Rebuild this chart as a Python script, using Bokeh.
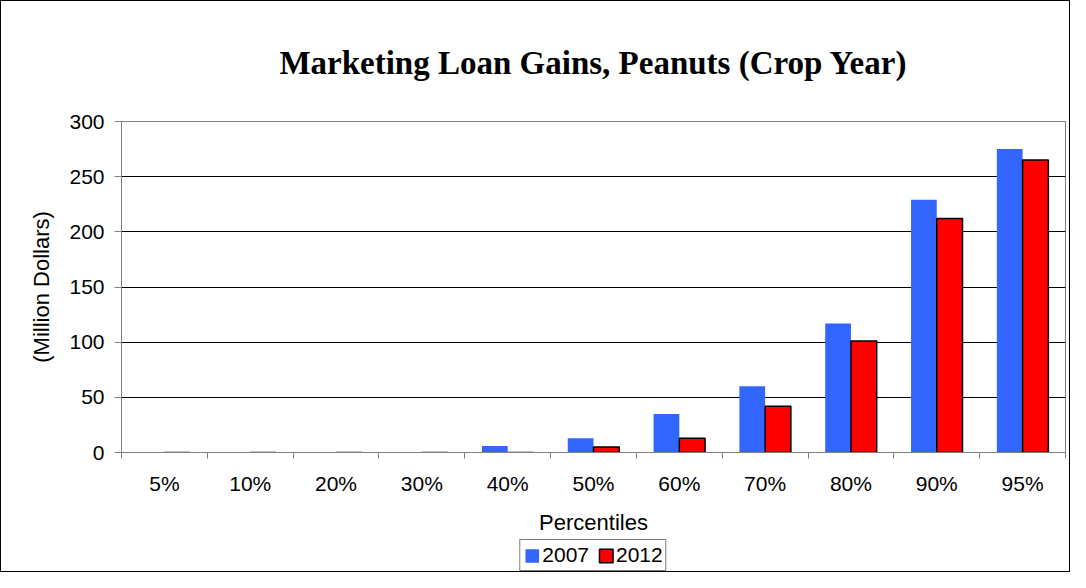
from bokeh.plotting import figure
from bokeh.layouts import column
from bokeh.models import (ColumnDataSource, Range1d, LinearAxis, FixedTicker, Legend, LegendItem)
from bokeh.transform import dodge
from bokeh.embed import file_html
from bokeh.resources import INLINE

categories = ["5%", "10%", "20%", "30%", "40%", "50%", "60%", "70%", "80%", "90%", "95%"]
values_2007 = [0, 0, 0, 0, 6, 13, 35, 60, 117, 229, 275]
values_2012 = [0, 0, 0, 0, 0, 5, 13, 42, 101, 212, 265]
series_names = ["2007", "2012"]
y_ticks = [0, 50, 100, 150, 200, 250, 300]

n = len(categories)
centers = [i + 0.5 for i in range(n)]
source = ColumnDataSource(data=dict(pos=centers, cat=categories, v2007=values_2007, v2012=values_2012))

SANS = "Liberation Sans"
SERIF = "Liberation Serif"
BLUE = "#3366FF"
RED = "#FF0000"

p = figure(width=1068, height=538, x_range=Range1d(0, n), y_range=Range1d(0, 300),
           x_axis_type=None, y_axis_type="linear",
           output_backend="svg", toolbar_location=None,
           min_border_left=120, min_border_right=4, min_border_top=119, min_border_bottom=87)

p.title.text = "Marketing Loan Gains, Peanuts (Crop Year)"
p.title.text_font = SERIF
p.title.text_font_size = "33px"
p.title.text_font_style = "bold"
p.title.text_color = "black"
p.title.align = "center"
p.title.standoff = 82

p.background_fill_color = "white"
p.border_fill_color = "white"
p.outline_line_color = "#808080"

# bars
r07 = p.vbar(x=dodge("pos", -0.15), top="v2007", width=0.3, source=source,
             fill_color=BLUE, line_color=None)
r12 = p.vbar(x=dodge("pos", 0.15), top="v2012", width=0.3, source=source,
             fill_color=RED, line_color="black", line_width=1.5)

# y axis
yax = p.yaxis[0]
yax.ticker = FixedTicker(ticks=y_ticks)
yax.axis_label = "(Million Dollars)"
yax.axis_label_text_font = SANS
yax.axis_label_text_font_size = "22px"
yax.axis_label_text_font_style = "normal"
yax.axis_label_text_color = "black"
yax.axis_label_standoff = 12
yax.major_label_text_font = SANS
yax.major_label_text_font_size = "21px"
yax.major_label_text_color = "black"
yax.major_label_standoff = 10
yax.major_tick_out = 7
yax.major_tick_in = 0
yax.minor_tick_line_color = None
yax.axis_line_color = "#808080"
yax.major_tick_line_color = "#808080"

p.ygrid.ticker = FixedTicker(ticks=y_ticks)
p.ygrid.grid_line_color = "black"
p.xgrid.grid_line_color = None

# x tick marks between categories
tick_axis = LinearAxis(ticker=FixedTicker(ticks=list(range(n + 1))),
                       major_label_text_font_size="0px", major_label_standoff=0,
                       major_tick_out=6, major_tick_in=0, minor_tick_line_color=None,
                       axis_line_color="#808080", major_tick_line_color="#808080")
p.add_layout(tick_axis, "below")

cat_axis = LinearAxis(ticker=FixedTicker(ticks=centers),
                      major_label_overrides={c: lab for c, lab in zip(centers, categories)},
                      axis_line_color=None, major_tick_line_color=None, minor_tick_line_color=None,
                      major_label_text_font=SANS, major_label_text_font_size="21px",
                      major_label_text_color="black",
                      major_label_standoff=7,
                      axis_label="Percentiles", axis_label_text_font=SANS,
                      axis_label_text_font_size="22px", axis_label_text_font_style="normal",
                      axis_label_text_color="black",
                      axis_label_standoff=12)
p.add_layout(cat_axis, "below")

# legend strip below the chart (swatch renderers sit outside the visible range)
lf = figure(width=1068, height=32, x_range=Range1d(0, 1), y_range=Range1d(1, 2),
            x_axis_type=None, y_axis_type=None, output_backend="svg", toolbar_location=None,
            min_border_left=120, min_border_right=4, min_border_top=0, min_border_bottom=0)
lf.outline_line_color = None
lf.background_fill_color = "white"
lf.border_fill_color = "white"
swatch = ColumnDataSource(data=dict(x=[0.5], top=[0]))
l07 = lf.vbar(x="x", top="top", width=0.1, source=swatch, fill_color=BLUE, line_color=None)
l12 = lf.vbar(x="x", top="top", width=0.1, source=swatch, fill_color=RED, line_color="black", line_width=1.5)

legend = Legend(items=[LegendItem(label=series_names[0], renderers=[l07]),
                       LegendItem(label=series_names[1], renderers=[l12])],
                orientation="horizontal", location="center",
                border_line_color="black", border_line_width=1,
                label_text_font=SANS, label_text_font_size="21px", label_text_color="black",
                glyph_width=17, glyph_height=17, label_standoff=2, spacing=8,
                padding=3, margin=0, background_fill_alpha=1)
lf.add_layout(legend, "center")

layout = column(p, lf, spacing=0, styles={"border": "1px solid black"})

open("out.html", "w").write(file_html(layout, INLINE))
